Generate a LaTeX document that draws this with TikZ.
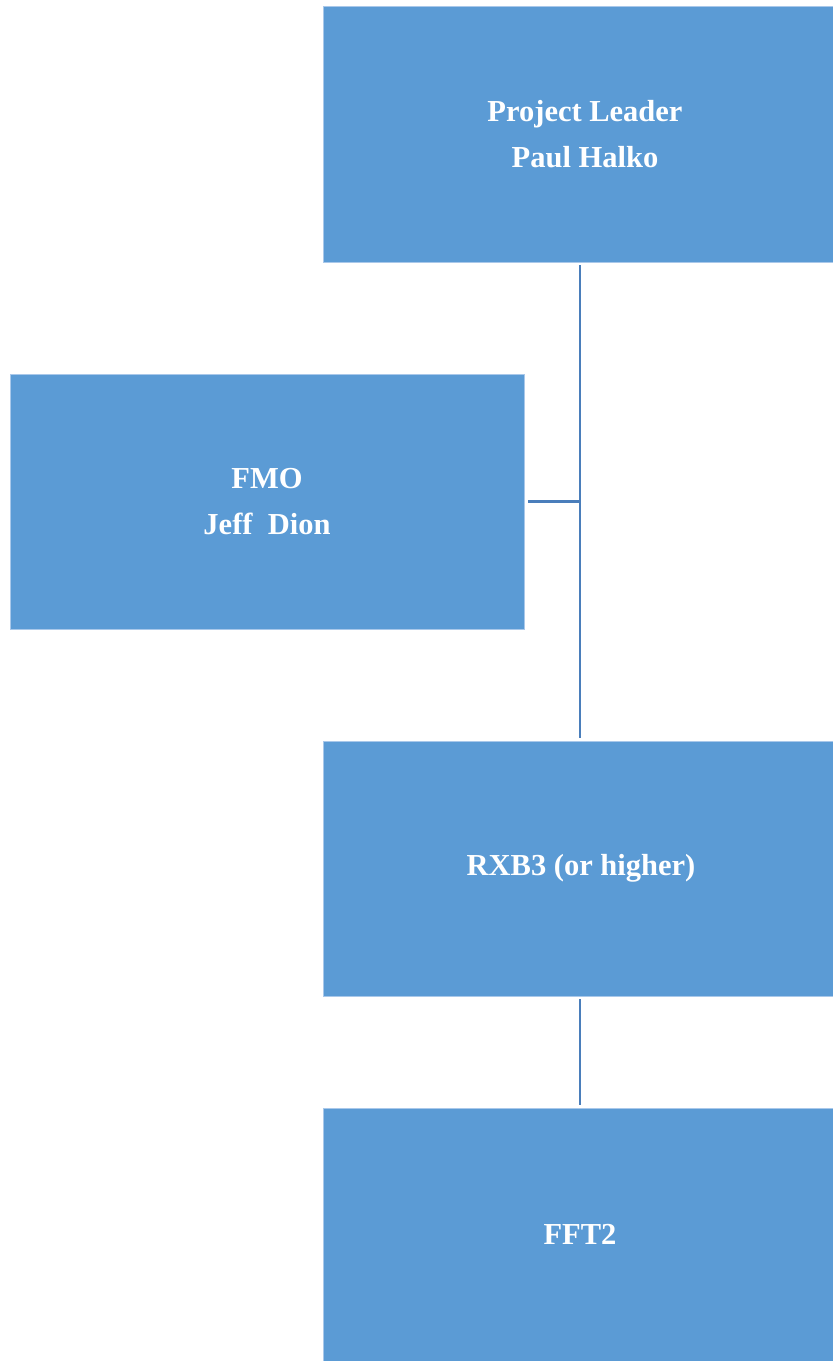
\documentclass[tikz,border=0pt]{standalone}
\usepackage{fontspec}
\setmainfont{Liberation Serif}
\definecolor{boxfill}{HTML}{5B9BD5}
\definecolor{boxedge}{HTML}{A9C8EA}
\definecolor{linecol}{HTML}{4A7EBB}
\begin{document}
\begin{tikzpicture}[x=1pt,y=-1pt,
  orgbox/.style={rectangle, fill=boxfill, draw=boxedge, line width=0.8pt,
    text=white, align=center, inner sep=0pt,
    font=\bfseries\fontsize{30.5}{46}\selectfont},
  conn/.style={draw=linecol, line width=2.8pt}]
\useasboundingbox (0,0) rectangle (833,1361);
\node[orgbox, minimum width=510pt, minimum height=256pt] (top) at (578,134) {\hspace*{14pt}Project Leader\\\hspace*{14pt}Paul Halko};
\node[orgbox, minimum width=514pt, minimum height=255pt] (fmo) at (267,501.5) {FMO\\Jeff\ \ Dion};
\node[orgbox, minimum width=510pt, minimum height=255pt] (rxb) at (578,868.5) {\hspace*{6pt}RXB3 (or higher)};
\node[orgbox, minimum width=510pt, minimum height=253pt] (fft) at (578,1234.5) {\hspace*{4pt}FFT2};
\draw[conn, shorten <=3pt, shorten >=3pt] ([xshift=2pt]top.south) -- ([xshift=2pt]rxb.north);
\draw[conn, shorten <=4pt] (fmo.east) -- ([xshift=2pt]fmo.east -| top.south);
\draw[conn, shorten <=3pt, shorten >=3pt] ([xshift=2pt]rxb.south) -- ([xshift=2pt]fft.north);
\end{tikzpicture}
\end{document}
